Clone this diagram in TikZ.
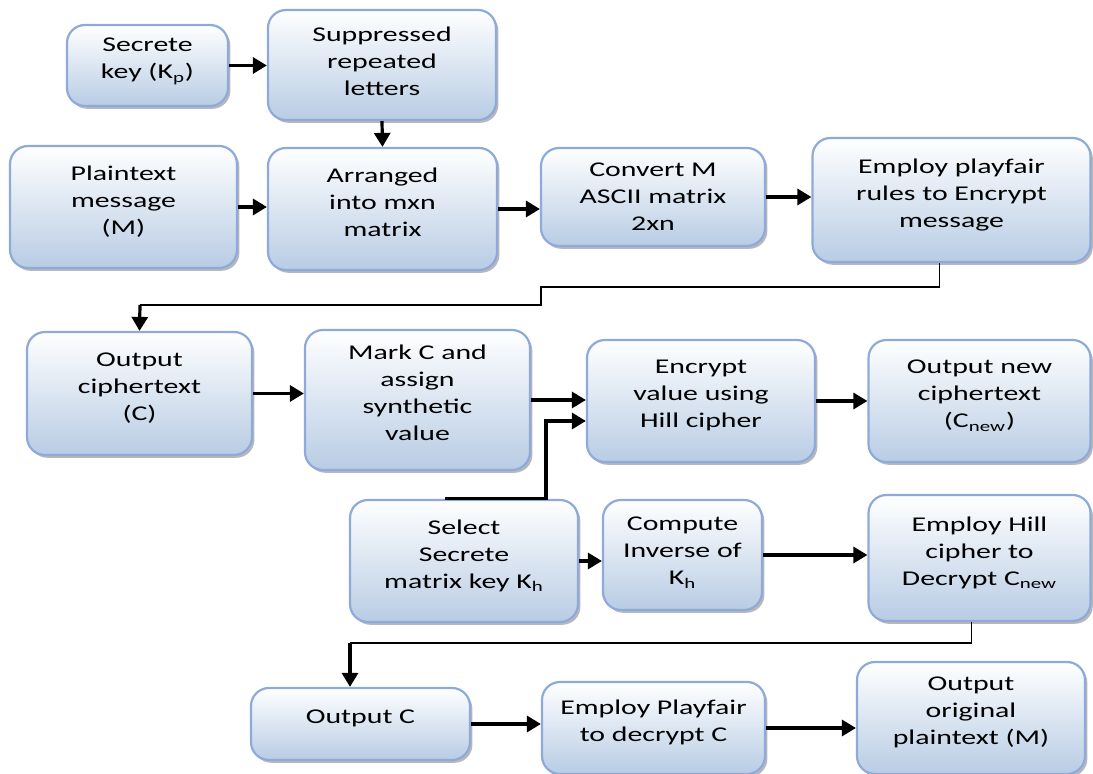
\documentclass[tikz,border=0pt]{standalone}
\usepackage{fontspec}
\setmainfont{Carlito}[FakeStretch=1.42]
\usetikzlibrary{arrows.meta,shadows,calc}
\definecolor{boxborder}{HTML}{8EAADB}
\definecolor{boxfill}{HTML}{B8CCE4}
\definecolor{shadowgray}{HTML}{9A9A9A}
\tikzset{
  procbox/.style={draw=boxborder,line width=1.1pt,rounded corners=9pt,top color=white,bottom color=boxfill,align=center,inner sep=2pt,text depth=7pt,font=\fontsize{10.5}{13.5}\selectfont,drop shadow={shadow xshift=1.2pt,shadow yshift=-1.4pt,fill=shadowgray,opacity=0.7}},
  flowarrow/.style={-{Triangle[length=7pt,width=8pt]},line width=1.6pt},
  elbowline/.style={line width=0.8pt}
}

\begin{document}
\begin{tikzpicture}[x=0.5pt,y=-0.5pt]
\useasboundingbox (0,0) rectangle (1093,774);
% encryption with playfair
\node[procbox,minimum width=80.5pt,minimum height=40.5pt] (skey) at (147.5,65.5) {Secrete\\key (K\textsubscript{p})};
\node[procbox,minimum width=114pt,minimum height=55pt,text depth=4pt] (supp) at (382,65) {Suppressed\\repeated\\letters};
\node[procbox,minimum width=113.5pt,minimum height=61pt] (plain) at (123.5,207) {Plaintext\\message\\(M)};
\node[procbox,minimum width=114.5pt,minimum height=61pt] (arr) at (382.5,209) {Arranged\\into mxn\\matrix};
\node[procbox,minimum width=112pt,minimum height=49pt,text depth=0pt] (conv) at (653,197) {Convert M\\ASCII matrix\\2xn};
\node[procbox,minimum width=139pt,minimum height=62pt] (rules) at (951.5,200) {Employ playfair\\rules to Encrypt\\message};
% encryption with hill
\node[procbox,minimum width=112.5pt,minimum height=61.5pt] (outc) at (139.5,393.5) {Output\\ciphertext\\(C)};
\node[procbox,minimum width=112.5pt,minimum height=70pt] (mark) at (417.5,400) {Mark C and\\assign\\synthetic\\value};
\node[procbox,minimum width=114pt,minimum height=61pt] (enc) at (701,401) {Encrypt\\value using\\Hill cipher};
\node[procbox,minimum width=111pt,minimum height=61pt] (onew) at (979.5,401) {Output new\\ciphertext\\(C\textsubscript{new})};
\node[procbox,minimum width=114pt,minimum height=61pt] (sel) at (464,561) {Select\\Secrete\\matrix key K\textsubscript{h}};
\node[procbox,minimum width=79.5pt,minimum height=55pt,text depth=4pt] (comp) at (682.5,555) {Compute\\Inverse of\\K\textsubscript{h}};
\node[procbox,minimum width=111pt,minimum height=63pt] (hdec) at (979.5,558) {Employ Hill\\cipher to\\Decrypt C\textsubscript{new}};
% decryption
\node[procbox,minimum width=109.5pt,minimum height=36pt] (outC) at (360.5,724) {Output C};
\node[procbox,minimum width=111.5pt,minimum height=46pt] (pdec) at (653.5,728) {Employ Playfair\\to decrypt C};
\node[procbox,minimum width=114pt,minimum height=56pt] (orig) at (971,718) {Output\\original\\plaintext (M)};

\draw[flowarrow] (skey.east) -- (skey.east -| supp.west);
\draw[flowarrow] (supp.south) -- (arr.north);
\draw[flowarrow] (plain.east) -- (plain.east -| arr.west);
\draw[flowarrow] (arr.east) -- (arr.east -| conv.west);
\draw[flowarrow] (conv.east) -- (conv.east -| rules.west);
\coordinate (b1) at (140,305);
\draw[elbowline] ([xshift=-6pt]rules.south) |- (541,287) -- (541,305) -- (b1);
\draw[flowarrow] (b1) -- (outc.north);
\draw[flowarrow] (outc.east) -- (outc.east -| mark.west);
\draw[flowarrow] (mark.east) -- (mark.east -| enc.west);
\draw[flowarrow] ([xshift=-9.5pt]sel.north) -| (546,421) -- ([yshift=-10pt]enc.west);
\draw[flowarrow] (enc.east) -- (enc.east -| onew.west);
\draw[flowarrow] (sel.east) -- (sel.east -| comp.west);
\draw[flowarrow] (comp.east) -- (comp.east -| hdec.west);
\coordinate (b2) at (350,643);
\draw[elbowline] ([xshift=-4pt]hdec.south) |- (b2);
\draw[flowarrow] (b2) -- (b2 |- outC.north);
\draw[flowarrow] (outC.east) -- (outC.east -| pdec.west);
\draw[flowarrow] (pdec.east) -- (pdec.east -| orig.west);
\end{tikzpicture}
\end{document}
